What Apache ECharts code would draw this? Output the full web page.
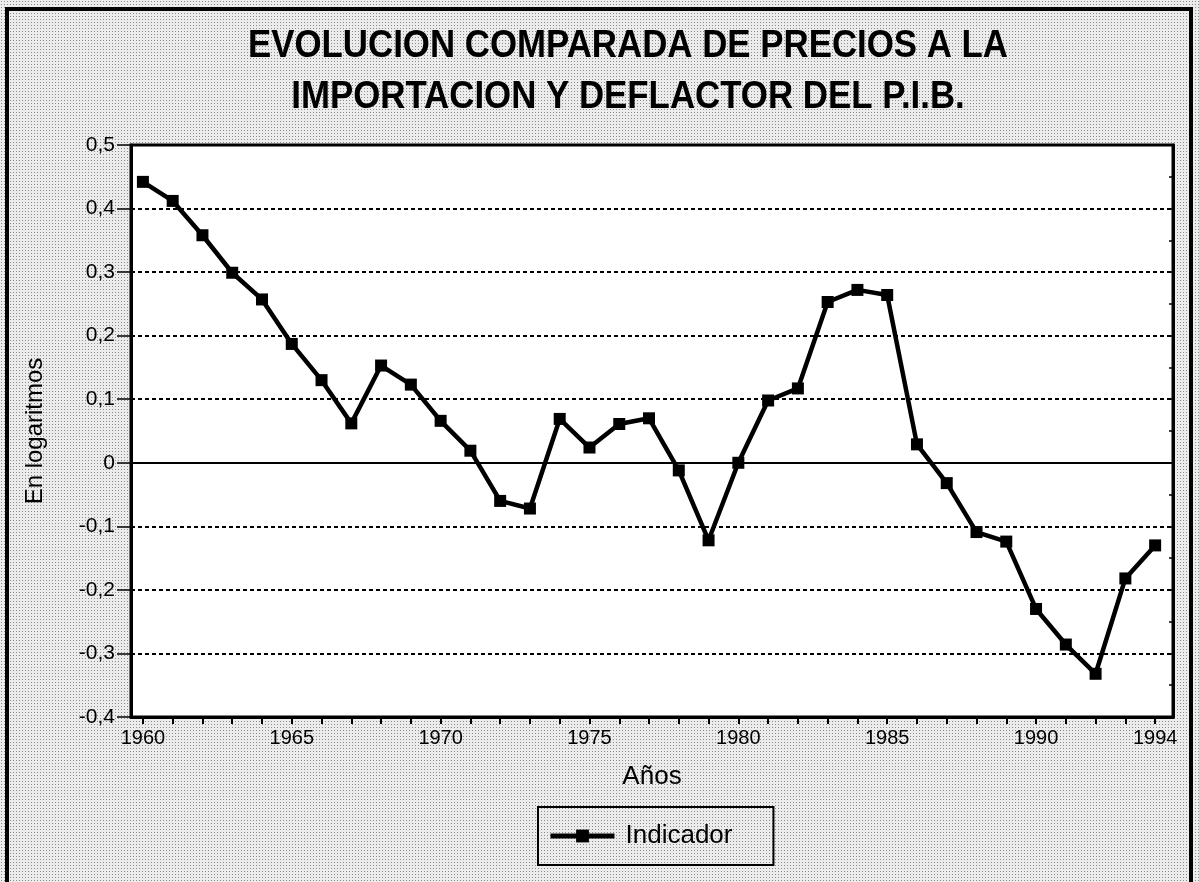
<!DOCTYPE html>
<html>
<head>
<meta charset="utf-8">
<script src="https://cdn.jsdelivr.net/npm/echarts@6/dist/echarts.min.js"></script>
<style>
  html, body { margin: 0; padding: 0; }
  #chart {
    width: 1199px; height: 882px;
    background-color: #ececec;
    background-image: radial-gradient(#8a8a8a 0.6px, transparent 0.8px);
    background-size: 3px 3px;
  }
</style>
</head>
<body>
<div id="chart"></div>
<script>
const titleLines = ['EVOLUCION COMPARADA DE PRECIOS A LA', 'IMPORTACION Y DEFLACTOR DEL P.I.B.'];
const years = [1960,1961,1962,1963,1964,1965,1966,1967,1968,1969,1970,1971,1972,1973,1974,1975,1976,1977,
               1978,1979,1980,1981,1982,1983,1984,1985,1986,1987,1988,1989,1990,1991,1992,1993,1994];
const indicador = [0.442,0.412,0.358,0.299,0.257,0.187,0.130,0.062,0.153,0.123,0.066,0.019,-0.060,-0.072,
                   0.069,0.024,0.061,0.070,-0.012,-0.122,0.000,0.098,0.117,0.253,0.272,0.264,0.029,-0.032,
                   -0.109,-0.124,-0.230,-0.286,-0.332,-0.182,-0.130];
const xTickLabels = [1960,1965,1970,1975,1980,1985,1990,1994];
const seriesName = 'Indicador';
const xName = 'Años';
const yName = 'En logaritmos';

const font = "'Liberation Sans', Arial, sans-serif";
// detect whether a narrow font is installed; otherwise compress the regular bold face horizontally
const cv = document.createElement('canvas').getContext('2d');
cv.font = "bold 38px 'Liberation Sans Narrow', monospace";
const wNarrow = cv.measureText(titleLines[0]).width;
cv.font = "bold 38px monospace";
const wMono = cv.measureText(titleLines[0]).width;
const hasNarrow = Math.abs(wNarrow - wMono) > 1;
const titleFamily = hasNarrow ? "'Liberation Sans Narrow', sans-serif" : font;
cv.font = "bold 39px " + titleFamily;
const titleScale = Math.min(1, 760 / cv.measureText(titleLines[0]).width);

const chart = echarts.init(document.getElementById('chart'), null, {renderer: 'canvas'});
chart.setOption({
  backgroundColor: 'transparent',
  animation: false,
  graphic: [{
    type: 'rect', silent: true, z: 100,
    shape: { x: 7, y: 9, width: 1184, height: 900 },
    style: { fill: null, stroke: '#000', lineWidth: 4 }
  }, {
    type: 'text', silent: true, x: 628, y: 46, scaleX: titleScale, originX: 0, z: 50,
    style: { text: titleLines[0], fill: '#000', font: 'bold 39px ' + titleFamily,
             align: 'center', verticalAlign: 'middle' }
  }, {
    type: 'text', silent: true, x: 628, y: 97, scaleX: titleScale, originX: 0, z: 50,
    style: { text: titleLines[1], fill: '#000', font: 'bold 39px ' + titleFamily,
             align: 'center', verticalAlign: 'middle' }
  }],
  legend: {
    data: [seriesName],
    left: 538, top: 807,
    itemWidth: 64, itemHeight: 16,
    padding: [16, 41, 16, 10],
    borderColor: '#000', borderWidth: 2,
    lineStyle: { width: 5, color: '#000' },
    textStyle: { fontFamily: font, fontSize: 26, color: '#000', padding: [0, 0, 0, 6] }
  },
  grid: {
    left: 131, right: 26, top: 145, bottom: 165,
    show: true, backgroundColor: '#fff', borderColor: '#000', borderWidth: 3
  },
  xAxis: {
    type: 'value', min: 1959.6, max: 1994.6,
    name: xName, nameLocation: 'middle', nameGap: 47,
    nameTextStyle: { fontFamily: font, fontSize: 26, color: '#000' },
    axisLine: { onZero: false, lineStyle: { color: '#000', width: 3 } },
    axisTick: { customValues: years, length: 7, lineStyle: { color: '#000', width: 2 } },
    axisLabel: { customValues: xTickLabels, margin: 11, fontFamily: font, fontSize: 20, color: '#000',
                 formatter: v => String(v) },
    splitLine: { show: false }
  },
  yAxis: [{
    type: 'value', min: -0.4, max: 0.5, interval: 0.1,
    name: yName, nameLocation: 'middle', nameGap: 84, nameRotate: 90,
    nameTextStyle: { fontFamily: font, fontSize: 24, color: '#000' },
    axisLine: { show: true, lineStyle: { color: '#000', width: 3 } },
    axisTick: { show: true, length: 14, lineStyle: { color: '#000', width: 1.5 } },
    axisLabel: { margin: 16, fontFamily: font, fontSize: 21, color: '#000',
                 formatter: v => { const r = Math.round(v * 10) / 10; return r === 0 ? '0' : String(r).replace('.', ','); } },
    splitLine: { show: true, lineStyle: { color: '#000', width: 1.8, type: [4, 3] } }
  }, {
    type: 'value', min: -0.4, max: 0.5, interval: 0.05, position: 'right',
    axisLine: { show: true, lineStyle: { color: '#000', width: 3 } },
    axisTick: { show: true, inside: true, length: 4, lineStyle: { color: '#000', width: 1.5 } },
    axisLabel: { show: false },
    splitLine: { show: false }
  }],
  series: [{
    name: seriesName, type: 'line',
    data: years.map((y, i) => [y, indicador[i]]),
    symbol: 'rect', symbolSize: 12,
    lineStyle: { color: '#000', width: 4.5 },
    itemStyle: { color: '#000' },
    markLine: {
      silent: true, symbol: 'none', label: { show: false },
      lineStyle: { color: '#000', width: 1.8, type: 'solid' },
      data: [{ yAxis: 0 }], z: 1
    },
    z: 5
  }]
});
</script>
</body>
</html>
